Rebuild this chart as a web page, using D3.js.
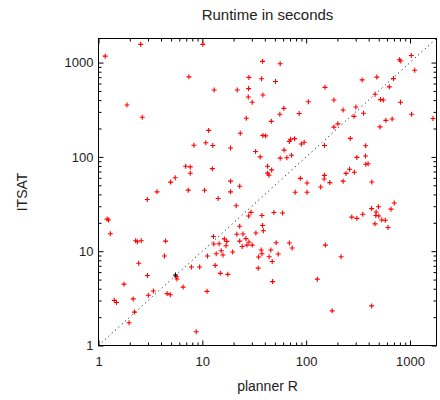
<!DOCTYPE html>
<html>
<head>
<meta charset="utf-8">
<script src="https://cdn.jsdelivr.net/npm/d3@7"></script>
<style>
  html, body { margin: 0; padding: 0; background: #fff; }
  svg { display: block; }
  text { font-family: "Liberation Sans", Arial, Helvetica, sans-serif; fill: #222; }
</style>
</head>
<body>
<svg id="chart" width="440" height="400"></svg>
<script>
// ---- data (seconds) ----
const plannerR = [
  2.55,1.16,1.88,2.64,5.48,4.95,3.66,10.1,38,7.43,28.1,37.2,13,21.7,27.9,27.7,38.3,30.2,26.5,11.5,
  23.2,38.3,40.7,8.3,10.8,12.6,18.7,32.6,36.1,6.91,7.65,7.65,12.5,42.5,46.5,42.5,43.8,18.7,22.9,7.32,
  10.5,18.7,56.2,50.7,185,105,61,227,55.8,85.6,46.2,185,202,266,70.8,68.9,77.3,95.7,89.9,150,
  61.3,72.3,65.2,56.2,87.9,102,150,149,169,242,262,227,138,78.4,102,1030,792,815,1110,479,
  346,694,632,461,520,553,810,301,357,289,1036,1665,673,585,514,374,373,308,395,375,
  291,429,2.95,1.21,1.25,1.30,2.28,2.37,2.58,4.42,4.32,2.44,2.96,5.7,5.61,1.76,6.53,3.38,3.02,4.58,
  4.91,1.42,1.49,2.16,2.22,1.97,14.2,21.2,37.5,27.9,29.4,22.9,38,38.7,32.8,21.5,24.6,12.8,16.3,17.2,
  26.3,22.9,28.1,30.2,12.9,14.5,16.9,24.2,26.9,36.9,37.5,19.6,15.2,15.8,13.6,11.2,34.8,44,7.85,9.42,
  13.3,34.5,14.9,17.6,11.1,8.73,48.9,59.3,275,51.4,68.9,73.3,45.7,53.8,217,47.1,128,47.5,178,308,
  351,427,497,472,469,501,706,656,460,535,578,614,427,152,153
];
const itsat = [
  1560,1170,355,263,60,54,42.6,1560,1030,706,696,673,511,511,530,431,453,379,257,191,
  178,169,167,133,141,132,124,114,100,79.6,78.3,67,75,79.6,72.8,67.2,64,55.3,48.9,44.4,
  44.2,42.6,970,629,401,384,327,314,283,288,238,207,224,157,154,146,156,143,137,132,
  118,104,98,97,59.2,52.8,63.7,58.2,53.4,66.8,74,55.3,47.9,42.1,42.1,1190,1070,1040,828,701,
  655,676,553,461,405,401,379,338,290,269,283,255,252,244,208,131,102,98.7,84.7,83.6,
  68.8,54.1,35.3,21.9,21.4,15.3,12.9,12.6,12.9,12.8,8.89,7.46,5.53,5.08,5.37,4.47,4.16,3.79,3.41,3.55,
  3.45,3.01,2.86,3.12,2.26,1.74,36.2,30.3,23.9,23.6,25.8,18.4,18.7,16.5,15.6,15.1,15.2,14.3,13.5,12.7,
  13.6,12.8,12.5,11.6,11.9,12,11.4,11.2,11.6,10.3,9.4,9.8,10.1,9.11,9.4,8.89,8.68,8.74,6.8,6.8,
  7.07,6.61,5.82,5.68,3.75,1.4,25.7,25.4,23,12.3,12.2,10.8,10.3,9.33,8.74,7.78,5.05,4.76,2.33,22.3,
  24.6,28.3,29.6,26,23.9,23.6,32.4,27.9,19.5,21.4,21.3,17.8,2.63,546,11.6
];
const plannerRBlack = [5.51];
const itsatBlack = [5.6];

const axisDomain = [1, 1800];
const majorTicks = [1, 10, 100, 1000];
const minorTicks = [2,3,4,5,6,7,8,9,20,30,40,50,60,70,80,90,200,300,400,500,600,700,800,900];

const titleText = "Runtime in seconds";
const xLabel = "planner R";
const yLabel = "ITSAT";

// ---- layout ----
const L = 98.5, R = 436.5, T = 38.5, B = 345.5;
const svg = d3.select("#chart");

const x = d3.scaleLog().domain(axisDomain).range([L, R]);
const y = d3.scaleLog().domain(axisDomain).range([B, T]);

const fmt = d3.format("d");
const tickFont = 13;

function styleAxis(g) {
  g.select(".domain").remove();
  g.selectAll(".tick line").attr("stroke", "#000").attr("stroke-width", 1);
  g.selectAll(".tick text").attr("font-size", tickFont)
    .attr("font-family", '"Liberation Sans", Arial, sans-serif').attr("fill", "#222");
}

// bottom
svg.append("g").attr("transform", `translate(0,${B})`)
  .call(d3.axisBottom(x).tickValues(majorTicks).tickFormat(fmt).tickSizeInner(-5).tickSizeOuter(0).tickPadding(11))
  .call(styleAxis);
svg.append("g").attr("transform", `translate(0,${B})`)
  .call(d3.axisBottom(x).tickValues(minorTicks).tickFormat("").tickSizeInner(-3).tickSizeOuter(0))
  .call(styleAxis);
// top
svg.append("g").attr("transform", `translate(0,${T})`)
  .call(d3.axisTop(x).tickValues(majorTicks).tickFormat("").tickSizeInner(-5).tickSizeOuter(0))
  .call(styleAxis);
svg.append("g").attr("transform", `translate(0,${T})`)
  .call(d3.axisTop(x).tickValues(minorTicks).tickFormat("").tickSizeInner(-3).tickSizeOuter(0))
  .call(styleAxis);
// left
svg.append("g").attr("transform", `translate(${L},0)`)
  .call(d3.axisLeft(y).tickValues(majorTicks).tickFormat(fmt).tickSizeInner(-5).tickSizeOuter(0).tickPadding(5))
  .call(styleAxis);
svg.append("g").attr("transform", `translate(${L},0)`)
  .call(d3.axisLeft(y).tickValues(minorTicks).tickFormat("").tickSizeInner(-3).tickSizeOuter(0))
  .call(styleAxis);
// right
svg.append("g").attr("transform", `translate(${R},0)`)
  .call(d3.axisRight(y).tickValues(majorTicks).tickFormat("").tickSizeInner(-5).tickSizeOuter(0))
  .call(styleAxis);
svg.append("g").attr("transform", `translate(${R},0)`)
  .call(d3.axisRight(y).tickValues(minorTicks).tickFormat("").tickSizeInner(-3).tickSizeOuter(0))
  .call(styleAxis);

// clip
svg.append("clipPath").attr("id", "clip")
  .append("rect").attr("x", L).attr("y", T).attr("width", R - L).attr("height", B - T);

const plot = svg.append("g").attr("clip-path", "url(#clip)");

// diagonal
plot.append("line")
  .attr("x1", x(axisDomain[0])).attr("y1", y(axisDomain[0]))
  .attr("x2", x(axisDomain[1])).attr("y2", y(axisDomain[1]))
  .attr("stroke", "#000").attr("stroke-width", 1)
  .attr("stroke-dasharray", "1,3.5");

// markers
const arm = 2.5;
function plus(sel, xs, ys, color) {
  const pts = xs.map((d, i) => [d, ys[i]]);
  sel.append("g").selectAll("path").data(pts).join("path")
    .attr("d", d => {
      const px = x(d[0]), py = y(d[1]);
      return `M${px - arm},${py}H${px + arm}M${px},${py - arm}V${py + arm}`;
    })
    .attr("stroke", color).attr("stroke-width", 1.1).attr("fill", "none");
}
plus(plot, plannerR, itsat, "#ff0000");
plus(plot, plannerRBlack, itsatBlack, "#000000");

// frame
svg.append("rect").attr("x", L).attr("y", T).attr("width", R - L).attr("height", B - T)
  .attr("fill", "none").attr("stroke", "#000").attr("stroke-width", 1);

// texts
svg.append("text").attr("x", (L + R) / 2).attr("y", 20).attr("text-anchor", "middle")
  .attr("font-size", 15).text(titleText);
svg.append("text").attr("x", (L + R) / 2).attr("y", 391).attr("text-anchor", "middle")
  .attr("font-size", 14).text(xLabel);
svg.append("text").attr("transform", `translate(22,${(T + B) / 2}) rotate(-90)`)
  .attr("text-anchor", "middle").attr("dy", "0.35em")
  .attr("font-size", 14).text(yLabel);
</script>
</body>
</html>
